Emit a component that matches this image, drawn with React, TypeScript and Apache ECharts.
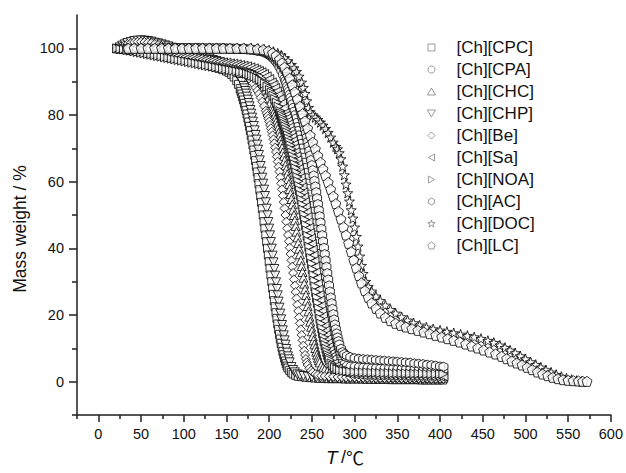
import React, { useEffect, useRef } from 'react';
import * as echarts from 'echarts';

const SERIES_NAMES = ['[Ch][CPC]', '[Ch][CPA]', '[Ch][CHC]', '[Ch][CHP]', '[Ch][Be]', '[Ch][Sa]', '[Ch][NOA]', '[Ch][AC]', '[Ch][DOC]', '[Ch][LC]'];

const X_MAJOR = [0, 50, 100, 150, 200, 250, 300, 350, 400, 450, 500, 550, 600];
const X_MINOR = [-25, 25, 75, 125, 175, 225, 275, 325, 375, 425, 475, 525, 575];
const Y_MAJOR = [0, 20, 40, 60, 80, 100];
const Y_MINOR = [-10, 10, 30, 50, 70, 90];

// [T (°C), mass weight (%)]
const CPC = [[22,100],[26,99.9],[30,99.8],[34,99.6],[38,99.4],[42,99.3],[46,99.1],[50,99],[54,98.8],[58,98.6],[62,98.4],[66,98.2],[70,98],[74,97.8],[78,97.5],[82,97.3],[86,97.1],[90,97],[94,96.8],[98,96.6],[102,96.5],[106,96.3],[110,96.1],[114,95.9],[118,95.6],[122,95.4],[126,95.2],[130,94.9],[134,94.6],[138,94.3],[142,94],[146,93.6],[150,93.2],[153,92.8],[156,92.2],[159,91.4],[162,90.3],[164,89.2],[166,87.9],[167,87.1],[168,86.3],[169,85.4],[170,84.5],[171,83.5],[172,82.5],[173,81.4],[174,80.3],[175,79.1],[176,77.9],[177,76.6],[178,75.3],[179,73.9],[180,72.5],[181,71],[182,69.5],[183,67.9],[184,66.3],[185,64.6],[186,62.9],[187,61.2],[188,59.4],[189,57.6],[190,55.7],[191,53.8],[192,51.9],[193,50],[194,48],[195,46],[196,44],[197,42],[198,40],[199,38],[200,36],[201,34],[202,32],[203,30],[204,28.1],[205,26.2],[206,24.3],[207,22.5],[208,20.7],[209,19],[210,17.3],[211,15.7],[212,14.2],[213,12.8],[214,11.5],[215,10.3],[216,9.1],[217,8.1],[218,7.1],[219,6.2],[220,5.4],[221,4.7],[222,4.1],[224,3.4],[226,2.8],[228,2.3],[231,1.9],[234,1.6],[238,1.5],[243,1.3],[248,1.2],[253,1.1],[258,1],[263,1],[268,0.9],[273,0.9],[278,0.9],[283,0.9],[288,0.8],[293,0.8],[298,0.8],[303,0.8],[308,0.8],[313,0.7],[318,0.7],[323,0.7],[328,0.7],[333,0.7],[338,0.7],[343,0.6],[348,0.6],[353,0.6],[358,0.6],[363,0.6],[368,0.6],[373,0.6],[378,0.5],[383,0.5],[388,0.5],[393,0.5],[398,0.5],[403,0.5]];

const CHP = [[22,99.8],[25,100.3],[28,100.8],[31,101.2],[34,101.6],[38,101.9],[42,102.2],[46,102.3],[50,102.4],[54,102.3],[58,102.2],[62,102],[66,101.7],[70,101.5],[74,101.2],[78,100.9],[82,100.6],[86,100.2],[90,99.9],[94,99.6],[98,99.3],[102,99],[106,98.7],[110,98.4],[114,98.1],[118,97.8],[122,97.5],[126,97.2],[130,96.9],[134,96.5],[138,96.2],[142,95.8],[146,95.4],[150,94.9],[153,94.4],[156,93.9],[159,93.2],[162,92.4],[164,91.7],[166,90.9],[168,89.9],[170,88.7],[171,88],[172,87.2],[173,86.4],[174,85.5],[175,84.6],[176,83.6],[177,82.6],[178,81.5],[179,80.4],[180,79.2],[181,78],[182,76.7],[183,75.4],[184,74],[185,72.6],[186,71.1],[187,69.6],[188,68],[189,66.4],[190,64.7],[191,63],[192,61.2],[193,59.4],[194,57.6],[195,55.7],[196,53.8],[197,51.9],[198,49.9],[199,47.9],[200,45.9],[201,43.9],[202,41.9],[203,39.9],[204,37.8],[205,35.8],[206,33.8],[207,31.8],[208,29.8],[209,27.8],[210,25.9],[211,24],[212,22.2],[213,20.4],[214,18.7],[215,17],[216,15.4],[217,13.9],[218,12.4],[219,11.1],[220,9.8],[221,8.7],[222,7.6],[223,6.7],[224,5.8],[226,4.4],[228,3.5],[230,2.8],[233,2.2],[236,1.9],[240,1.7],[245,1.5],[250,1.4],[255,1.3],[260,1.2],[265,1.1],[270,1.1],[275,1],[280,1],[285,1],[290,0.9],[295,0.9],[300,0.9],[305,0.9],[310,0.9],[315,0.9],[320,0.8],[325,0.8],[330,0.8],[335,0.8],[340,0.8],[345,0.8],[350,0.8],[355,0.8],[360,0.7],[365,0.7],[370,0.7],[375,0.7],[380,0.7],[385,0.7],[390,0.7],[395,0.7],[400,0.7],[404,0.7]];

const BE = [[22,100],[26,100.5],[30,100.9],[34,101.3],[38,101.6],[42,101.9],[46,102],[50,102],[54,101.9],[58,101.8],[62,101.6],[66,101.3],[70,101],[74,100.7],[78,100.4],[82,100.1],[86,99.8],[90,99.5],[94,99.2],[98,98.9],[102,98.6],[106,98.3],[110,98],[114,97.7],[118,97.4],[122,97.1],[126,96.8],[130,96.5],[134,96.2],[138,95.9],[142,95.6],[146,95.3],[150,95],[154,94.6],[158,94.2],[162,93.7],[166,93.2],[169,92.7],[172,92.1],[175,91.4],[178,90.5],[181,89.5],[184,88.2],[186,87.3],[188,86.3],[190,85.2],[192,84],[194,82.7],[196,81.3],[197,80.5],[198,79.7],[199,78.9],[200,78],[201,77],[202,76],[203,75],[204,73.9],[205,72.7],[206,71.5],[207,70.2],[208,68.9],[209,67.5],[210,66],[211,64.5],[212,63],[213,61.3],[214,59.5],[215,57.7],[216,55.8],[217,53.9],[218,52],[219,50],[220,48],[221,46],[222,44],[223,42.1],[224,40.2],[225,38.3],[226,36.4],[227,34.5],[228,32.6],[229,30.7],[230,28.8],[231,26.9],[232,25],[233,23.1],[234,21.2],[235,19.3],[236,17.5],[237,15.7],[238,14],[239,12.4],[240,10.8],[241,9.3],[242,8],[243,6.8],[244,5.8],[245,5],[247,4],[249,3.3],[251,2.8],[254,2.3],[257,2],[261,1.8],[265,1.7],[270,1.6],[275,1.5],[280,1.4],[285,1.4],[290,1.3],[295,1.3],[300,1.3],[305,1.2],[310,1.2],[315,1.2],[320,1.2],[325,1.1],[330,1.1],[335,1.1],[340,1.1],[345,1.1],[350,1.1],[355,1],[360,1],[365,1],[370,1],[375,1],[380,1],[385,1],[390,0.9],[395,0.9],[400,0.9],[404,0.9]];

const CHC = [[22,100],[26,99.9],[30,99.8],[34,99.7],[38,99.6],[42,99.5],[46,99.4],[50,99.3],[54,99.1],[58,99],[62,98.8],[66,98.7],[70,98.5],[74,98.4],[78,98.2],[82,98.1],[86,97.9],[90,97.8],[94,97.6],[98,97.5],[102,97.3],[106,97.2],[110,97],[114,96.9],[118,96.7],[122,96.6],[126,96.4],[130,96.3],[134,96.1],[138,96],[142,95.8],[146,95.6],[150,95.4],[154,95.2],[158,95],[162,94.7],[165,94.5],[168,94.2],[171,93.9],[174,93.5],[177,93.1],[180,92.5],[183,91.9],[186,91.1],[189,90],[191,89.2],[193,88.3],[195,87.3],[197,86.2],[199,85],[201,83.6],[203,82.1],[204,81.3],[205,80.5],[206,79.6],[207,78.7],[208,77.8],[209,76.8],[210,75.8],[211,74.7],[212,73.6],[213,72.4],[214,71.3],[215,70.1],[216,68.8],[217,67.6],[218,66.3],[219,64.9],[220,63.6],[221,62.2],[222,60.8],[223,59.3],[224,57.8],[225,56.3],[226,54.8],[227,53.2],[228,51.6],[229,50],[230,48.4],[231,46.7],[232,45],[233,43.3],[234,41.6],[235,39.9],[236,38.2],[237,36.4],[238,34.7],[239,32.9],[240,31.2],[241,29.4],[242,27.7],[243,26],[244,24.3],[245,22.7],[246,21.1],[247,19.5],[248,18],[249,16.5],[250,15.1],[251,13.7],[252,12.4],[253,11.2],[254,10.1],[255,9],[256,8.1],[257,7.2],[258,6.5],[259,5.8],[261,4.8],[263,4.2],[265,3.6],[268,3.1],[271,2.8],[275,2.6],[280,2.3],[285,2.2],[290,2],[295,2],[300,1.9],[305,1.9],[310,1.8],[315,1.8],[320,1.7],[325,1.7],[330,1.6],[335,1.6],[340,1.5],[345,1.5],[350,1.5],[355,1.5],[360,1.4],[365,1.4],[370,1.4],[375,1.4],[380,1.3],[385,1.3],[390,1.3],[395,1.3],[400,1.2],[404,1.2]];

const NOA = [[22,100],[26,99.8],[30,99.7],[34,99.5],[38,99.3],[42,99.1],[46,98.9],[50,98.7],[54,98.5],[58,98.3],[62,98.1],[66,97.9],[70,97.7],[74,97.5],[78,97.3],[82,97.1],[86,96.9],[90,96.7],[94,96.5],[98,96.3],[102,96.1],[106,95.9],[110,95.7],[114,95.5],[118,95.3],[122,95.1],[126,94.9],[130,94.7],[134,94.5],[138,94.3],[142,94.1],[146,93.9],[150,93.7],[154,93.5],[158,93.3],[162,93.1],[166,92.9],[170,92.7],[174,92.4],[177,92.1],[180,91.8],[183,91.5],[186,91.1],[189,90.6],[192,90.1],[195,89.4],[198,88.5],[201,87.5],[203,86.7],[205,85.8],[207,84.8],[209,83.7],[211,82.5],[213,81.2],[214,80.5],[215,79.8],[216,79],[217,78.2],[218,77.4],[219,76.6],[220,75.7],[221,74.8],[222,73.9],[223,72.9],[224,71.9],[225,70.9],[226,69.8],[227,68.7],[228,67.6],[229,66.4],[230,65.2],[231,64],[232,62.7],[233,61.4],[234,60.1],[235,58.7],[236,57.4],[237,56],[238,54.6],[239,53.1],[240,51.6],[241,50.1],[242,48.6],[243,47],[244,45.4],[245,43.8],[246,42.2],[247,40.5],[248,38.8],[249,37.1],[250,35.4],[251,33.7],[252,32],[253,30.3],[254,28.6],[255,26.9],[256,25.2],[257,23.6],[258,22],[259,20.4],[260,18.9],[261,17.4],[262,16],[263,14.6],[264,13.3],[265,12.1],[266,11],[267,9.9],[268,8.9],[269,8],[270,7.2],[271,6.5],[273,5.5],[275,4.8],[277,4.2],[280,3.7],[283,3.4],[287,3.2],[291,3.1],[295,3],[300,2.9],[305,2.9],[310,2.8],[315,2.8],[320,2.7],[325,2.7],[330,2.6],[335,2.6],[340,2.6],[345,2.5],[350,2.5],[355,2.5],[360,2.5],[365,2.4],[370,2.4],[375,2.4],[380,2.4],[385,2.3],[390,2.3],[395,2.3],[400,2.3],[404,2.3]];

const SA = [[22,100],[26,100],[30,99.9],[34,99.8],[38,99.7],[42,99.6],[46,99.5],[50,99.4],[54,99.3],[58,99.1],[62,99],[66,98.8],[70,98.7],[74,98.5],[78,98.4],[82,98.2],[86,98.1],[90,97.9],[94,97.8],[98,97.6],[102,97.5],[106,97.3],[110,97.2],[114,97],[118,96.9],[122,96.7],[126,96.6],[130,96.4],[134,96.3],[138,96.1],[142,96],[146,95.8],[150,95.7],[154,95.5],[158,95.4],[162,95.2],[166,95],[170,94.8],[174,94.6],[178,94.3],[182,94],[185,93.6],[188,93.2],[191,92.8],[194,92.3],[197,91.6],[200,90.8],[203,89.8],[205,89],[207,88.1],[209,87.1],[211,86],[213,84.8],[215,83.5],[217,82.1],[219,80.6],[220,79.8],[221,79],[222,78.1],[223,77.2],[224,76.3],[225,75.3],[226,74.3],[227,73.3],[228,72.2],[229,71.1],[230,70],[231,68.8],[232,67.6],[233,66.4],[234,65.1],[235,63.8],[236,62.5],[237,61.1],[238,59.7],[239,58.3],[240,56.8],[241,55.4],[242,53.9],[243,52.4],[244,50.9],[245,49.4],[246,47.8],[247,46.2],[248,44.6],[249,43],[250,41.3],[251,39.6],[252,37.9],[253,36.2],[254,34.5],[255,32.8],[256,31.1],[257,29.4],[258,27.7],[259,26],[260,24.4],[261,22.8],[262,21.2],[263,19.7],[264,18.2],[265,16.7],[266,15.3],[267,14],[268,12.7],[269,11.5],[270,10.4],[271,9.4],[272,8.4],[273,7.5],[274,6.7],[276,5.5],[278,4.6],[280,3.9],[283,3.3],[286,2.9],[290,2.6],[295,2.3],[300,2.2],[305,2.1],[310,2],[315,2],[320,1.9],[325,1.9],[330,1.9],[335,1.9],[340,1.8],[345,1.8],[350,1.8],[355,1.8],[360,1.7],[365,1.7],[370,1.7],[375,1.7],[380,1.7],[385,1.7],[390,1.6],[395,1.6],[400,1.6],[404,1.6]];

const CPA = [[30,100],[34,100],[38,100.1],[42,100.1],[46,100.1],[50,100.1],[54,100.1],[58,100.1],[62,100.1],[66,100.1],[70,100.1],[74,100.1],[78,100.1],[82,100.1],[86,100.1],[90,100.1],[94,100.1],[98,100.1],[102,100.1],[106,100.1],[110,100.1],[114,100.1],[118,100.1],[122,100],[126,100],[130,100],[134,100],[138,100],[142,100],[146,100],[150,100],[154,99.9],[158,99.9],[162,99.9],[166,99.8],[170,99.8],[174,99.7],[178,99.6],[182,99.5],[186,99.3],[189,99.2],[192,99],[195,98.7],[198,98.3],[200,98],[202,97.6],[204,97.2],[206,96.6],[208,96],[210,95.3],[212,94.4],[214,93.3],[216,92.1],[218,90.9],[219,90.2],[220,89.4],[221,88.6],[222,87.8],[223,87],[224,86.1],[225,85.2],[226,84.2],[227,83.2],[228,82.1],[229,81],[230,79.9],[231,78.8],[232,77.6],[233,76.4],[234,75.2],[235,73.9],[236,72.6],[237,71.3],[238,69.9],[239,68.5],[240,67.1],[241,65.6],[242,64.1],[243,62.6],[244,61],[245,59.4],[246,57.8],[247,56.1],[248,54.4],[249,52.7],[250,51],[251,49.2],[252,47.4],[253,45.6],[254,43.8],[255,42],[256,40.2],[257,38.3],[258,36.5],[259,34.6],[260,32.8],[261,30.9],[262,29.1],[263,27.3],[264,25.5],[265,23.8],[266,22.1],[267,20.4],[268,18.8],[269,17.2],[270,15.7],[271,14.3],[272,13],[273,11.7],[274,10.6],[275,9.5],[276,8.6],[277,7.8],[279,6.7],[281,6],[284,5.3],[287,5],[291,4.7],[295,4.5],[300,4.4],[305,4.3],[310,4.2],[315,4.1],[320,4],[325,4],[330,3.9],[335,3.9],[340,3.8],[345,3.8],[350,3.7],[355,3.7],[360,3.6],[365,3.6],[370,3.5],[375,3.5],[380,3.4],[385,3.4],[390,3.3],[395,3.3],[400,3.2],[404,3.2]];

const AC = [[34,100],[38,100],[42,100],[46,100],[50,100],[54,100],[58,100],[62,100],[66,100],[70,100],[74,100],[78,100],[82,100],[86,100],[90,100],[94,100],[98,100],[102,100],[106,100],[110,100],[114,100],[118,100],[122,100],[126,100],[130,100],[134,100],[138,100],[142,100],[146,100],[150,99.9],[154,99.9],[158,99.9],[162,99.9],[166,99.8],[170,99.8],[174,99.7],[178,99.6],[182,99.5],[186,99.3],[190,99.2],[193,99],[196,98.8],[199,98.5],[201,98.2],[203,97.9],[205,97.6],[207,97.2],[209,96.7],[211,96.1],[213,95.5],[215,94.8],[217,94.1],[219,93.2],[221,92.4],[223,91.4],[225,90.4],[227,89.2],[229,87.8],[231,86.4],[233,84.8],[235,83],[236,82.1],[237,81.1],[238,80.1],[239,79.1],[240,78],[241,76.9],[242,75.7],[243,74.5],[244,73.3],[245,72],[246,70.7],[247,69.3],[248,67.9],[249,66.5],[250,65],[251,63.5],[252,61.9],[253,60.3],[254,58.6],[255,56.9],[256,55.1],[257,53.3],[258,51.5],[259,49.7],[260,47.8],[261,45.9],[262,44],[263,42.1],[264,40.2],[265,38.3],[266,36.4],[267,34.5],[268,32.6],[269,30.7],[270,28.9],[271,27.1],[272,25.3],[273,23.6],[274,21.9],[275,20.3],[276,18.7],[277,17.2],[278,15.8],[279,14.5],[280,13.3],[281,12.2],[282,11.2],[284,9.9],[286,8.9],[288,8.3],[291,7.8],[295,7.4],[300,7.1],[305,6.9],[310,6.8],[315,6.7],[320,6.6],[325,6.5],[330,6.4],[335,6.3],[340,6.2],[345,6.1],[350,6],[355,5.9],[360,5.8],[365,5.7],[370,5.5],[375,5.4],[380,5.3],[385,5.1],[390,5],[395,4.8],[400,4.6],[404,4.5]];

const DOC = [[35,100],[43,100],[51,100],[59,100],[67,100],[75,100],[83,100],[91,100],[99,100],[107,100],[115,100],[123,100],[131,100],[139,100],[147,100],[155,100],[163,100],[171,100],[179,100],[187,99.9],[194,99.7],[200,99.4],[205,99],[210,98.5],[214,97.9],[218,97.1],[222,96.2],[226,95.1],[229,94.1],[232,93],[235,91.6],[238,89.8],[240,88.2],[242,86.4],[244,84.2],[246,82.2],[248,80.9],[251,80],[254,79.3],[257,78.6],[260,77.8],[263,76.9],[266,75.9],[269,74.7],[272,73.3],[275,71.8],[278,70.5],[280,69.8],[282,68.6],[284,66.8],[286,64.6],[288,62],[290,59.2],[292,56.6],[294,54.1],[296,51.5],[298,49],[300,46.3],[302,43.5],[304,40.6],[306,37.6],[308,34.8],[310,32.4],[313,30],[316,28.5],[320,27.1],[325,25.6],[330,24.3],[336,22.9],[342,21.6],[348,20.5],[355,19.4],[362,18.4],[369,17.6],[376,16.9],[384,16.3],[392,15.8],[400,15.4],[408,15],[416,14.6],[424,14.2],[432,13.8],[440,13.4],[448,12.9],[456,12.3],[463,11.7],[470,10.9],[476,10.2],[482,9.4],[488,8.6],[494,7.7],[500,6.8],[506,5.9],[512,5.1],[518,4.3],[524,3.5],[530,2.8],[536,2.1],[542,1.5],[548,1],[554,0.6],[560,0.3],[566,0.1]];

const LC = [[35,100],[42,100],[50,100],[58,100],[66,100],[74,100],[82,100],[90,100],[98,100],[106,100],[114,100],[122,100],[130,100],[138,100],[146,100],[154,100],[162,100],[170,100],[178,99.9],[186,99.8],[193,99.6],[199,99.2],[204,98.6],[208,97.8],[212,96.7],[215,95.6],[218,94.3],[221,92.8],[224,91],[227,89],[230,86.9],[233,84.8],[236,82.6],[239,80.4],[242,78.2],[245,76],[248,73.9],[251,71.8],[254,69.8],[257,67.8],[260,65.8],[263,63.8],[266,61.8],[269,59.8],[272,57.7],[275,55.6],[278,53.4],[281,51.1],[284,48.8],[287,46.4],[290,44],[293,41.5],[296,39],[299,36.5],[302,34.1],[305,31.8],[308,29.6],[312,27.3],[316,25.3],[320,23.6],[325,22],[330,20.6],[336,19.3],[342,18.3],[348,17.5],[354,16.9],[360,16.4],[367,15.9],[374,15.4],[381,14.9],[388,14.4],[395,13.9],[402,13.4],[409,12.9],[416,12.4],[423,11.9],[430,11.3],[437,10.7],[444,10.1],[451,9.5],[458,8.9],[465,8.3],[472,7.6],[478,6.9],[484,6.2],[490,5.6],[496,5],[502,4.3],[508,3.6],[514,2.9],[520,2.3],[526,1.8],[532,1.3],[538,0.9],[544,0.6],[550,0.4],[556,0.3],[562,0.2],[567,0.1],[572,0.1]];

const SERIES_DATA = [CPC, CPA, CHC, CHP, BE, SA, NOA, AC, DOC, LC];

const SYMBOLS = [
  'path://M0,0L10,0L10,10L0,10Z',
  'circle',
  'path://M5,0L10,8.66L0,8.66Z',
  'path://M0,0L10,0L5,8.66Z',
  'path://M5,0L10,5L5,10L0,5Z',
  'path://M8.66,0L8.66,10L0,5Z',
  'path://M0,0L8.66,5L0,10Z',
  'path://M8.66,0L17.32,5L17.32,15L8.66,20L0,15L0,5Z',
  'path://M10,0L12.35,6.76L19.51,6.91L13.8,11.24L15.88,18.09L10,14L4.12,18.09L6.2,11.24L0.49,6.91L7.65,6.76Z',
  'path://M10,0L19.51,6.91L15.88,18.09L4.12,18.09L0.49,6.91Z',
];
const SIZES = [8, 9, 9, 9, 9, 9, 9, 9, 10, 10];

const FONT = '"Liberation Sans", Arial, sans-serif';
const AXIS_COLOR = '#1e1e1e';
const TEXT_COLOR = '#111';

export default function App() {
  const ref = useRef<HTMLDivElement>(null);
  useEffect(() => {
    document.body.style.margin = '0';
    const chart = echarts.init(ref.current as HTMLDivElement, null, { renderer: 'svg' });
    const lineStyle = { color: AXIS_COLOR, width: 1.5 };
    const option: any = {
      animation: false,
      backgroundColor: '#fff',
      grid: { left: 77, right: 13, top: 15, bottom: 58 },
      xAxis: [
        {
          type: 'value', min: -25, max: 600, interval: 25,
          axisLine: { show: true, onZero: false, lineStyle },
          axisTick: { show: true, customValues: X_MAJOR, length: 7, lineStyle },
          axisLabel: { customValues: X_MAJOR, fontSize: 14.5, fontFamily: FONT, color: TEXT_COLOR, margin: 11 },
          splitLine: { show: false },
        },
        {
          type: 'value', position: 'bottom', min: -25, max: 600, interval: 25,
          axisLine: { show: false, onZero: false },
          axisTick: { show: true, customValues: X_MINOR, length: 4, lineStyle },
          axisLabel: { show: false },
          splitLine: { show: false },
        },
      ],
      yAxis: [
        {
          type: 'value', min: -10, max: 110, interval: 10,
          axisLine: { show: true, onZero: false, lineStyle },
          axisTick: { show: true, customValues: Y_MAJOR, length: 8, lineStyle },
          axisLabel: { customValues: Y_MAJOR, fontSize: 14.5, fontFamily: FONT, color: TEXT_COLOR, margin: 13 },
          splitLine: { show: false },
        },
        {
          type: 'value', position: 'left', min: -10, max: 110, interval: 10,
          axisLine: { show: false, onZero: false },
          axisTick: { show: true, customValues: Y_MINOR, length: 5, lineStyle },
          axisLabel: { show: false },
          splitLine: { show: false },
        },
      ],
      legend: {
        orient: 'vertical', left: 427, top: 39, padding: 0, itemGap: 5,
        itemWidth: 40, itemHeight: 7, symbolKeepAspect: true,
        textStyle: { fontSize: 17, fontFamily: FONT, color: TEXT_COLOR, lineHeight: 17 },
        itemStyle: { color: '#fff', borderColor: '#666', borderWidth: 0.8 },
        data: SERIES_NAMES,
      },
      graphic: [
        {
          type: 'text', x: 20, y: 229, rotation: Math.PI / 2,
          style: { text: 'Mass weight / %', fontSize: 17.5, fontFamily: FONT, fill: TEXT_COLOR, textAlign: 'center', textVerticalAlign: 'middle' },
        },
        {
          type: 'text', x: 326, y: 457,
          style: {
            text: '{t|T} {s|/}{c|℃}',
            textVerticalAlign: 'middle',
            rich: {
              t: { fontSize: 19, fontStyle: 'italic', fontFamily: FONT, fill: TEXT_COLOR },
              s: { fontSize: 18, fontFamily: FONT, fill: TEXT_COLOR },
              c: { fontSize: 18, fontFamily: '"Noto Sans CJK SC"', fill: TEXT_COLOR },
            },
          },
        },
      ],
      series: SERIES_DATA.map((d, i) => ({
        type: 'scatter',
        name: SERIES_NAMES[i],
        xAxisIndex: 0,
        yAxisIndex: 0,
        data: d,
        symbol: SYMBOLS[i],
        symbolSize: SIZES[i],
        itemStyle: { color: '#fff', borderColor: '#000', borderWidth: 1 },
        emphasis: { disabled: true },
      })),
    };
    chart.setOption(option);
    return () => chart.dispose();
  }, []);
  return <div ref={ref} style={{ width: 626, height: 473 }} />;
}
